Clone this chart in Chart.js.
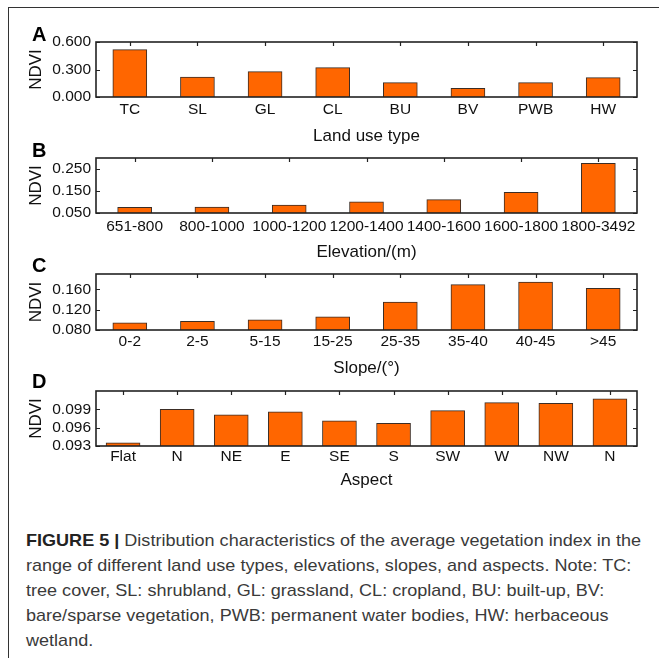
<!DOCTYPE html>
<html>
<head>
<meta charset="utf-8">
<script src="https://cdn.jsdelivr.net/npm/chart.js@4.4.0/dist/chart.umd.min.js"></script>
<style>
  html, body { margin: 0; padding: 0; background: #fff; }
  body { width: 659px; height: 658px; position: relative; overflow: hidden; }
  .frame { position: absolute; left: 8px; top: 7px; width: 700px; height: 700px;
           border-top: 1px solid #333; border-left: 1px solid #333; }
  .panel { position: absolute; left: 0; }
  .caption { position: absolute; left: 26px; top: 528px; white-space: nowrap;
             font-family: "Liberation Sans", Arial, sans-serif;
             font-size: 17px; line-height: 25px; color: #3a3a3a; transform-origin: 0 0; }
  .caption b { color: #222; }
  .caption span { display: block; }
</style>
</head>
<body>
<div class="frame"></div>
<canvas id="panelA" class="panel"></canvas>
<canvas id="panelB" class="panel"></canvas>
<canvas id="panelC" class="panel"></canvas>
<canvas id="panelD" class="panel"></canvas>
<div class="caption" id="caption">
  <span id="capLine1"><b>FIGURE 5 |</b> Distribution characteristics of the average vegetation index in the</span>
  <span>range of different land use types, elevations, slopes, and aspects. Note: TC:</span>
  <span>tree cover, SL: shrubland, GL: grassland, CL: cropland, BU: built-up, BV:</span>
  <span>bare/sparse vegetation, PWB: permanent water bodies, HW: herbaceous</span>
  <span>wetland.</span>
</div>
<script>
// ---- data ----
const landUseTypes = ['TC', 'SL', 'GL', 'CL', 'BU', 'BV', 'PWB', 'HW'];
const landUseNdvi = [0.516, 0.218, 0.276, 0.320, 0.156, 0.095, 0.156, 0.211];
const landUseTicks = [0.000, 0.300, 0.600];

const elevationBands = ['651-800', '800-1000', '1000-1200', '1200-1400', '1400-1600', '1600-1800', '1800-3492'];
const elevationNdvi = [0.076, 0.077, 0.086, 0.101, 0.111, 0.144, 0.276];
const elevationTicks = [0.050, 0.150, 0.250];

const slopeBands = ['0-2', '2-5', '5-15', '15-25', '25-35', '35-40', '40-45', '>45'];
const slopeNdvi = [0.094, 0.097, 0.100, 0.106, 0.135, 0.169, 0.174, 0.162];
const slopeTicks = [0.080, 0.120, 0.160];

const aspectClasses = ['Flat', 'N', 'NE', 'E', 'SE', 'S', 'SW', 'W', 'NW', 'N'];
const aspectNdvi = [0.0935, 0.0990, 0.0981, 0.0986, 0.0971, 0.0967, 0.0988, 0.1001, 0.1000, 0.1007];
const aspectTicks = [0.093, 0.096, 0.099];

// ---- shared styling ----
const FONT = '"Liberation Sans", Arial, Helvetica, sans-serif';
Chart.defaults.font.family = FONT;
Chart.defaults.color = '#111';

const BAR_FILL = '#ff6600';
const BAR_EDGE = '#3b2d25';
const AXIS_COLOR = '#222';

// Box around the plot, inward tick marks on top/left/right, and the panel letter.
const boxedAxes = {
  id: 'boxedAxes',
  afterDraw(chart, args, opts) {
    const { ctx, chartArea: a, scales: { x, y } } = chart;
    ctx.save();
    ctx.strokeStyle = AXIS_COLOR;
    ctx.lineWidth = 1.2;
    ctx.beginPath();
    x.ticks.forEach((t, i) => {
      const px = Math.round(x.getPixelForTick(i)) + 0.5;
      ctx.moveTo(px, a.top);
      ctx.lineTo(px, a.top + 4);
    });
    y.ticks.forEach(t => {
      const py = Math.round(y.getPixelForValue(t.value)) + 0.5;
      ctx.moveTo(a.left, py); ctx.lineTo(a.left + 4, py);
      ctx.moveTo(a.right, py); ctx.lineTo(a.right - 4, py);
    });
    ctx.stroke();
    ctx.lineWidth = 1.6;
    ctx.strokeRect(a.left, a.top, a.right - a.left, a.bottom - a.top);
    ctx.fillStyle = '#000';
    ctx.font = 'bold 20px ' + FONT;
    ctx.textBaseline = 'alphabetic';
    ctx.textAlign = 'left';
    ctx.fillText(opts.letter, 32, a.top + opts.letterDy);
    ctx.restore();
  }
};

function drawPanel(cfg) {
  const canvas = document.getElementById(cfg.id);
  const padTop = 22;
  const height = padTop + cfg.plotHeight + cfg.xAxisHeight;
  canvas.width = 659;
  canvas.height = height;
  canvas.style.top = (cfg.plotTop - padTop) + 'px';

  new Chart(canvas, {
    type: 'bar',
    data: {
      labels: cfg.labels,
      datasets: [{
        data: cfg.values,
        backgroundColor: BAR_FILL,
        borderColor: BAR_EDGE,
        borderWidth: 1,
        barThickness: 34,
        base: cfg.range[0]
      }]
    },
    options: {
      responsive: false,
      animation: false,
      devicePixelRatio: 1,
      layout: { padding: { top: padTop, right: 22, left: 0, bottom: 0 } },
      plugins: {
        legend: { display: false },
        tooltip: { enabled: false },
        boxedAxes: { letter: cfg.letter, letterDy: cfg.letterDy }
      },
      scales: {
        x: {
          type: 'category',
          grid: { display: false, drawTicks: false },
          border: { display: false },
          ticks: {
            autoSkip: false, maxRotation: 0, minRotation: 0,
            padding: cfg.labelPad,
            color: '#111',
            font: { size: 15.5 }
          },
          title: {
            display: true, text: cfg.title, color: '#111',
            font: { size: 17 }, padding: { top: 0, bottom: 0 }
          },
          afterFit(s) { s.height = cfg.xAxisHeight; }
        },
        y: {
          type: 'linear',
          min: cfg.range[0],
          max: cfg.range[1],
          grid: { display: false, drawTicks: false },
          border: { display: false },
          afterBuildTicks(s) { s.ticks = cfg.ticks.map(v => ({ value: v })); },
          ticks: {
            padding: 5,
            color: '#111',
            font: { size: 15.5 },
            callback: v => Number(v).toFixed(3)
          },
          title: {
            display: true, text: 'NDVI', color: '#111',
            font: { size: 17 }, padding: { top: 26, bottom: 0 }
          },
          afterFit(s) { s.width = 96; }
        }
      }
    },
    plugins: [boxedAxes]
  });
}

drawPanel({ id: 'panelA', letter: 'A', letterDy: -1, plotTop: 42, plotHeight: 55, xAxisHeight: 50, labelPad: 3.7,
            labels: landUseTypes, values: landUseNdvi, ticks: landUseTicks, range: [0, 0.6], title: 'Land use type' });
drawPanel({ id: 'panelB', letter: 'B', letterDy: -1.5, plotTop: 158, plotHeight: 55, xAxisHeight: 50, labelPad: 4.4,
            labels: elevationBands, values: elevationNdvi, ticks: elevationTicks, range: [0.05, 0.30], title: 'Elevation/(m)' });
drawPanel({ id: 'panelC', letter: 'C', letterDy: -2.5, plotTop: 274, plotHeight: 56, xAxisHeight: 49, labelPad: 2.7,
            labels: slopeBands, values: slopeNdvi, ticks: slopeTicks, range: [0.08, 0.19], title: 'Slope/(°)' });
drawPanel({ id: 'panelD', letter: 'D', letterDy: -3.5, plotTop: 391, plotHeight: 55, xAxisHeight: 45, labelPad: 1.4,
            labels: aspectClasses, values: aspectNdvi, ticks: aspectTicks, range: [0.093, 0.102], title: 'Aspect' });

// Fit the caption block to the text column width.
(function fitCaption() {
  const cap = document.getElementById('caption');
  const w = document.getElementById('capLine1').getBoundingClientRect().width;
  if (w > 0) cap.style.transform = 'scaleX(' + (615 / w) + ')';
})();
</script>
</body>
</html>
